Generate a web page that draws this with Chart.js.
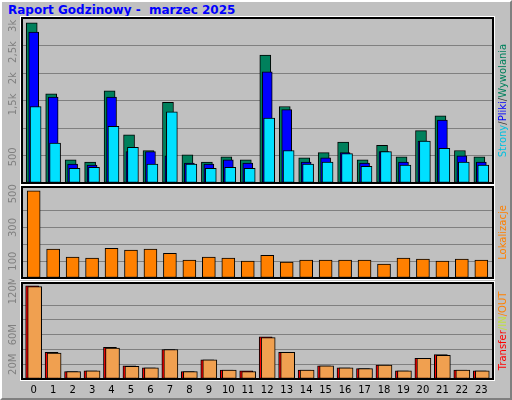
<!DOCTYPE html>
<html><head><meta charset="utf-8">
<script src="https://cdn.jsdelivr.net/npm/chart.js@4/dist/chart.umd.min.js"></script>
<style>
html,body{margin:0;padding:0;background:#c0c0c0;}
#wrap{position:relative;width:512px;height:400px;background:#c0c0c0;box-sizing:border-box;border-top:2px solid #fff;border-left:2px solid #fff;border-right:2px solid #808080;border-bottom:2px solid #808080;overflow:hidden;}
canvas{position:absolute;left:0;}
#title{position:absolute;left:6px;top:1px;font:bold 12px "DejaVu Sans",sans-serif;color:#0000ff;white-space:pre;}
</style></head><body>
<div id="wrap">
<div id="title">Raport Godzinowy -  marzec 2025</div>
<canvas id="c1" style="top:12px"></canvas>
<canvas id="c2" style="top:181px"></canvas>
<canvas id="c3" style="top:277px"></canvas>
</div>
<script>
const hours=[0,1,2,3,4,5,6,7,8,9,10,11,12,13,14,15,16,17,18,19,20,21,22,23];
const hits=[3060,1700,440,400,1760,920,620,1540,540,400,500,440,2440,1460,480,580,780,440,720,500,1000,1280,620,500];
const files=[2880,1640,360,340,1640,600,600,520,380,360,440,380,2120,1400,400,480,580,380,600,400,800,1200,520,400];
const pages=[1460,760,280,300,1080,680,360,1360,360,280,300,280,1240,620,360,400,560,320,600,340,800,660,400,340];
const sites=[518,171,124,118,176,165,171,147,106,124,118,100,135,94,106,106,106,106,82,118,112,100,112,106];
const kin=[126,36,10,11,43,18,15,40,10,26,12,11,57,36,12,18,15,14,19,11,28,33,12,11];
const kout=[125,35,10,11,42,17,15,40,10,26,12,10,56,36,12,18,15,14,19,11,28,32,12,11];
const tick1=[[500,"500"],[1500,"1,5k"],[2000,"2k"],[2500,"2,5k"],[3000,"3k"]];
const tick2=[[100,"100"],[300,"300"],[500,"500"]];
const tick3=[[20,"20M"],[60,"60M"],[120,"120M"]];

function pts(arr,off){return arr.map((v,i)=>({x:hours[i]+off,y:v}));}
function ds(arr,off,col,w,order){return {data:pts(arr,off),backgroundColor:col,borderColor:'#000',borderWidth:1,borderSkipped:false,barThickness:w,grouped:false,order:order};}

function make(id,h,pad,datasets,max,step,ticks,side,showX){
  const cv=document.getElementById(id);
  cv.width=508;cv.height=h;cv.style.width='508px';cv.style.height=h+'px';
  const plug={id:'deco',
    beforeDatasetsDraw(c){const a=c.chartArea,x=c.ctx;
      x.save();x.strokeStyle='#fff';x.lineWidth=1;x.strokeRect(a.left-1.5,a.top-1.5,a.width+3,a.height+3);
      x.strokeStyle='#000';x.lineWidth=2;x.strokeRect(a.left,a.top,a.width,a.height);x.restore();},
    afterDraw(c){const a=c.chartArea,x=c.ctx,y=c.scales.y;
      x.save();x.font='10px "DejaVu Sans",sans-serif';x.fillStyle='#808080';x.textAlign='center';x.textBaseline='middle';
      ticks.forEach(([v,t])=>{const py=y.getPixelForValue(v);x.save();x.translate(a.left-9,py);x.rotate(-Math.PI/2);x.fillText(t,0,0);x.restore();});
      if(showX){x.fillStyle='#000';x.font='10px "DejaVu Sans",sans-serif';x.textBaseline='top';
        hours.forEach(hh=>x.fillText(String(hh),c.scales.x.getPixelForValue(hh),a.bottom+6));}
      x.font='10px "DejaVu Sans",sans-serif';x.textAlign='left';x.textBaseline='middle';
      let tw=side.reduce((s,p)=>s+x.measureText(p[0]).width,0);
      x.translate(a.right+10,(a.top+a.bottom)/2+tw/2);x.rotate(-Math.PI/2);
      let px=0;side.forEach(([t,col])=>{x.fillStyle=col;x.fillText(t,px,0);px+=x.measureText(t).width;});
      x.restore();}};
  return new Chart(cv,{type:'bar',data:{datasets},plugins:[plug],
    options:{responsive:false,animation:false,devicePixelRatio:1,layout:{padding:pad},
      plugins:{legend:{display:false},tooltip:{enabled:false}},
      scales:{x:{type:'linear',min:-0.6,max:23.6,offset:false,display:false,grid:{offset:false}},
        y:{min:0,max:max,display:true,border:{display:false},ticks:{display:false,stepSize:step},grid:{color:'#808080',drawTicks:false,lineWidth:1}}}}});
}
make('c1',171,{left:20,right:17,top:4,bottom:2},
  [ds(hits,-0.1,'#00805c',11,3),ds(files,0,'#0000ff',10,2),ds(pages,0.1,'#00e0ff',11,1)],
  3150,500,tick1,[['Strony','#00c0e0'],['/','#333'],['Pliki','#0000ff'],['/','#333'],['Wywolania','#00805c']],false);
make('c2',97,{left:20,right:17,top:4,bottom:2},
  [ds(sites,0,'#ff8000',13,1)],
  540,100,tick2,[['Lokalizacje','#ff8000']],false);
make('c3',121,{left:20,right:17,top:4,bottom:21},
  [ds(kin,-0.08,'#ff0000',13,2),ds(kout,0.05,'#f0a050',14,1)],
  130,20,tick3,[['Transfer','#ff0000'],['/IN','#c0e040'],['/OUT','#ff8000']],true);
</script>
</body></html>
